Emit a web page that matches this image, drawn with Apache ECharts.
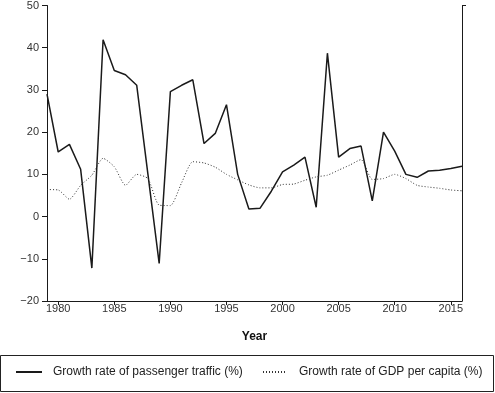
<!DOCTYPE html>
<html>
<head>
<meta charset="utf-8">
<script src="https://cdn.jsdelivr.net/npm/echarts@6/dist/echarts.min.js"></script>
<style>
html,body{margin:0;padding:0;background:#fff;}
#chart{width:495px;height:393px;}
</style>
</head>
<body>
<div id="chart"></div>
<script>
const years = [1979,1980,1981,1982,1983,1984,1985,1986,1987,1988,1989,1990,1991,1992,1993,1994,1995,1996,1997,1998,1999,2000,2001,2002,2003,2004,2005,2006,2007,2008,2009,2010,2011,2012,2013,2014,2015,2016];
const passengerGrowth = [29,15.3,17.1,11.2,-12.2,41.9,34.6,33.6,31.1,10,-11.1,29.6,31.1,32.4,17.3,19.7,26.5,10,1.8,2,6,10.6,12.2,14.1,2.2,38.7,14.1,16.1,16.7,3.7,20,15.5,10,9.3,10.8,11,11.4,11.9];
const gdpGrowth = [6.4,6.3,4.1,7.4,9.8,13.8,11.8,7.4,10,9,2.7,2.6,8,13,12.7,11.7,10,8.7,7.5,6.8,6.8,7.6,7.7,8.6,9.4,9.8,11,12.2,13.5,8.8,9,10,9,7.4,7,6.7,6.3,6.1];
const xTicks = [1980,1985,1990,1995,2000,2005,2010,2015];
const seriesNames = ['Growth rate of passenger traffic (%)','Growth rate of GDP per capita (%)'];

const chart = echarts.init(document.getElementById('chart'), null, {renderer:'canvas'});
const font = 'Liberation Sans, Arial, sans-serif';
const axisColor = '#1a1a1a';
const labelColor = '#333';

chart.setOption({
  animation:false,
  backgroundColor:'#fff',
  textStyle:{fontFamily:font},
  grid:{left:47,right:33,top:5,bottom:92,containLabel:false},
  xAxis:{
    type:'value', min:1979, max:2016,
    name:'Year', nameLocation:'middle', nameGap:30,
    nameTextStyle:{fontFamily:font,fontSize:12,fontWeight:'bold',color:'#111'},
    axisLine:{show:true,onZero:false,lineStyle:{color:axisColor,width:1}},
    axisTick:{show:true,length:4,customValues:xTicks,lineStyle:{color:axisColor}},
    axisLabel:{customValues:xTicks,fontFamily:font,fontSize:11,color:labelColor,margin:2,formatter:v=>String(v)},
    splitLine:{show:false}
  },
  yAxis:[{
    type:'value', min:-20, max:50, interval:10,
    axisLine:{show:true,onZero:false,lineStyle:{color:axisColor,width:1}},
    axisTick:{show:true,length:5,lineStyle:{color:axisColor}},
    axisLabel:{fontFamily:font,fontSize:11,color:labelColor,margin:8,formatter:v=>v<0?'\u2212'+Math.abs(v):String(v)},
    splitLine:{show:false}
  },{
    type:'value', min:-20, max:50, position:'right',
    axisLine:{show:true,onZero:false,lineStyle:{color:axisColor,width:1}},
    axisTick:{show:true,length:4,customValues:[50],lineStyle:{color:axisColor}},
    axisLabel:{show:false},
    splitLine:{show:false}
  }],
  legend:[{
    data:[seriesNames[0]], left:10, top:361, itemWidth:26, itemHeight:14,
    itemStyle:{opacity:0},
    textStyle:{fontFamily:font,fontSize:12,color:'#222',padding:[0,0,0,6]}
  },{
    data:[seriesNames[1]], left:257, top:361, itemWidth:22, itemHeight:14,
    itemStyle:{opacity:0},
    textStyle:{fontFamily:font,fontSize:12,color:'#222',padding:[0,0,0,9]}
  }],
  graphic:[{
    type:'rect', shape:{x:0.5,y:355.5,width:493,height:36},
    style:{fill:'none',stroke:'#222',lineWidth:1}, silent:true
  }],
  series:[{
    name:seriesNames[0], type:'line', smooth:false, symbol:'none', showSymbol:false,
    data:years.map((y,i)=>[y,passengerGrowth[i]]),
    lineStyle:{color:'#1a1a1a',width:1.5}, itemStyle:{color:'#1a1a1a'}
  },{
    name:seriesNames[1], type:'line', smooth:0.2, symbol:'none', showSymbol:false,
    data:years.map((y,i)=>[y,gdpGrowth[i]]),
    lineStyle:{color:'#333',width:1,type:[1,2]}, itemStyle:{color:'#333'}
  }]
});
</script>
</body>
</html>
